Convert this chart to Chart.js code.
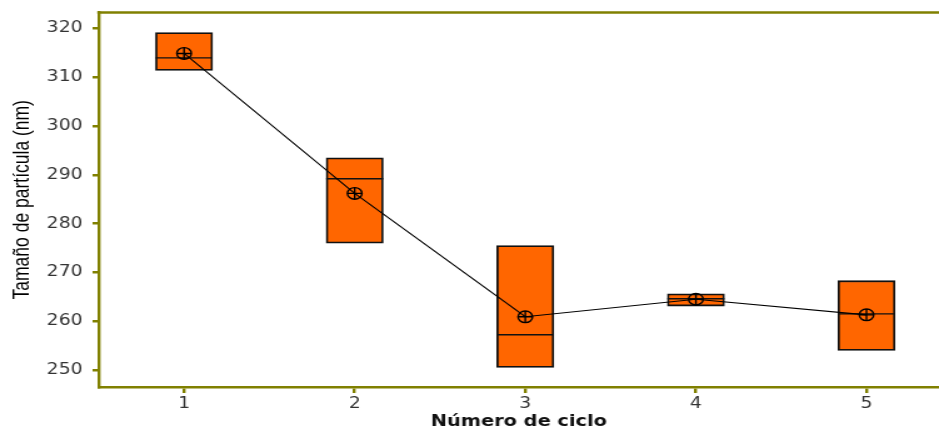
<!DOCTYPE html>
<html>
<head>
<meta charset="utf-8">
<script src="https://cdn.jsdelivr.net/npm/chart.js@4.4.1/dist/chart.umd.min.js"></script>
<style>
  html, body { margin: 0; padding: 0; background: #ffffff; overflow: hidden; }
  #c { display: block; width: 939px; height: 435px; }
</style>
</head>
<body>
<canvas id="c" width="751" height="435" style="width:939px;height:435px"></canvas>
<script>
// Particle size per cycle: box spans Q1..Q3, inner line = median, marker = mean
const cycles = [1, 2, 3, 4, 5];
const xTickLabels = ['1', '2', '3', '4', '5'];
const q1 = [311.4, 276.0, 250.5, 263.1, 254.0];
const q3 = [319.2, 293.5, 275.5, 265.6, 268.3];
const medians = [314.0, 289.2, 257.2, 264.6, 261.5];
const means = [314.9, 286.2, 260.9, 264.5, 261.3];
const yTicks = [250, 260, 270, 280, 290, 300, 310, 320];

const OLIVE = '#808000';
const BOX_FILL = '#ff6600';
const INK = '#111111';

// Median line across each box, drawn right after the boxes
const medianLines = {
  id: 'medianLines',
  afterDatasetDraw(chart, args) {
    if (args.index !== 0) return;
    const ctx = chart.ctx;
    const y = chart.scales.y;
    ctx.save();
    ctx.strokeStyle = INK;
    ctx.lineWidth = 1.4;
    args.meta.data.forEach((bar, i) => {
      const half = bar.width / 2;
      const py = y.getPixelForValue(medians[i]);
      ctx.beginPath();
      ctx.moveTo(bar.x - half, py);
      ctx.lineTo(bar.x + half, py);
      ctx.stroke();
    });
    ctx.restore();
  }
};

// Top edge of the plot frame
const topFrame = {
  id: 'topFrame',
  afterDraw(chart) {
    const { ctx, chartArea } = chart;
    ctx.save();
    ctx.strokeStyle = OLIVE;
    ctx.lineWidth = 2.6;
    ctx.beginPath();
    ctx.moveTo(chartArea.left - 1.2, chartArea.top);
    ctx.lineTo(chartArea.right, chartArea.top);
    ctx.stroke();
    ctx.restore();
  }
};

new Chart(document.getElementById('c'), {
  type: 'bar',
  data: {
    datasets: [
      {
        label: 'Q1–Q3',
        data: cycles.map((c, i) => ({ x: c, y: [q1[i], q3[i]] })),
        backgroundColor: BOX_FILL,
        borderColor: INK,
        borderWidth: 1.8,
        borderSkipped: false,
        barThickness: 45.6,
        order: 3
      },
      {
        type: 'line',
        label: 'Media',
        data: cycles.map((c, i) => ({ x: c, y: means[i] })),
        borderColor: '#000000',
        borderWidth: 1.1,
        tension: 0,
        pointStyle: 'circle',
        pointRadius: 5.8,
        pointBorderWidth: 1.4,
        pointBorderColor: '#000000',
        pointBackgroundColor: 'rgba(0,0,0,0)',
        order: 2
      },
      {
        type: 'line',
        label: 'Media +',
        data: cycles.map((c, i) => ({ x: c, y: means[i] })),
        showLine: false,
        pointStyle: 'cross',
        pointRadius: 5.8,
        pointBorderWidth: 1.4,
        pointBorderColor: '#000000',
        order: 1
      }
    ]
  },
  options: {
    responsive: false,
    devicePixelRatio: 1,
    animation: false,
    layout: { autoPadding: false, padding: { top: 12.5, left: 0, right: 0, bottom: 0 } },
    plugins: {
      legend: { display: false },
      tooltip: { enabled: false }
    },
    scales: {
      x: {
        type: 'linear',
        offset: false,
        min: 0.5,
        max: 5.425,
        afterBuildTicks: (scale) => { scale.ticks = cycles.map(v => ({ value: v })); },
        afterFit: (scale) => { scale.height = 48; scale.paddingLeft = 0; scale.paddingRight = 0; },
        ticks: {
          callback: (v, i) => xTickLabels[i],
          font: { family: 'DejaVu Sans', size: 15 },
          color: '#333333',
          padding: 2,
          maxRotation: 0
        },
        grid: {
          offset: false,
          drawOnChartArea: false,
          drawTicks: true,
          tickLength: 6,
          color: OLIVE,
          lineWidth: 2.4
        },
        border: { display: true, color: OLIVE, width: 2.6 },
        title: {
          display: true,
          text: 'Número de ciclo',
          font: { family: 'DejaVu Sans', size: 15.5, weight: 'bold' },
          color: '#111111',
          padding: { top: 0, bottom: 3.5 }
        }
      },
      y: {
        type: 'linear',
        min: 246.5,
        max: 323.3,
        afterBuildTicks: (scale) => { scale.ticks = yTicks.map(v => ({ value: v })); },
        afterFit: (scale) => { scale.width = 79; scale.paddingTop = 0; scale.paddingBottom = 0; },
        ticks: {
          callback: (v) => String(v),
          font: { family: 'DejaVu Sans', size: 15 },
          color: '#333333',
          padding: 8
        },
        grid: {
          drawOnChartArea: false,
          drawTicks: true,
          tickLength: 5,
          color: OLIVE,
          lineWidth: 2.5
        },
        border: { display: true, color: OLIVE, width: 2.4 },
        title: {
          display: true,
          text: 'Tamaño de partícula (nm)',
          font: { family: 'Liberation Sans', size: 17.5 },
          color: '#000000',
          padding: { top: 8, bottom: 0 }
        }
      }
    }
  },
  plugins: [medianLines, topFrame]
});
</script>
</body>
</html>
